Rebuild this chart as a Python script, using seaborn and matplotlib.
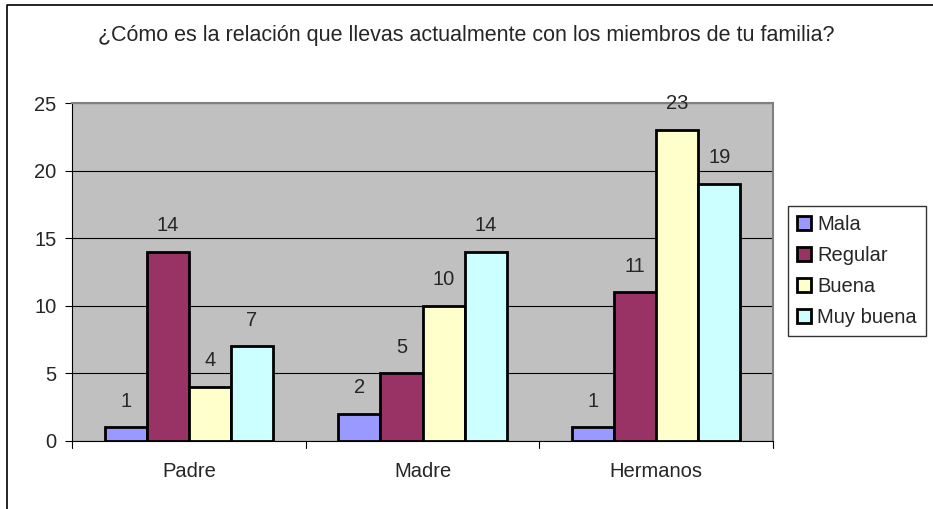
import pandas as pd
import seaborn as sns
import matplotlib.pyplot as plt
from matplotlib.lines import Line2D

# Data
categories = ["Padre", "Madre", "Hermanos"]
levels = ["Mala", "Regular", "Buena", "Muy buena"]
mala = [1, 2, 1]
regular = [14, 5, 11]
buena = [4, 10, 23]
muy_buena = [7, 14, 19]
colors = ["#9999FF", "#993366", "#FFFFCC", "#CCFFFF"]

df = pd.DataFrame({
    "Familiar": categories * 4,
    "Relacion": [lv for lv in levels for _ in categories],
    "Valor": mala + regular + buena + muy_buena,
})

sns.set_style("white")
plt.rcParams["font.family"] = ["Liberation Sans", "DejaVu Sans"]
FS = 14.5

fig = plt.figure(figsize=(9.33, 5.09), dpi=100)
ax = fig.add_axes([0.0772, 0.1336, 0.7513, 0.664])
ax.set_facecolor("#C0C0C0")

sns.barplot(data=df, x="Familiar", y="Valor", hue="Relacion", hue_order=levels,
            palette=colors, edgecolor="black", linewidth=2, width=0.72,
            saturation=1, ax=ax, zorder=3)

for cont in ax.containers:
    ax.bar_label(cont, padding=12, fontsize=FS)

ax.set_ylim(0, 25)
ax.set_xlim(-0.5, 2.5)
ax.set_yticks(range(0, 26, 5))
ax.yaxis.grid(True, color="black", linewidth=0.8, zorder=0)
ax.set_axisbelow(True)
ax.set_xlabel("")
ax.set_ylabel("")
ax.tick_params(axis="both", labelsize=FS)
ax.tick_params(axis="y", length=5, width=0.8, direction="out", left=True,
               color="black", pad=6)
ax.tick_params(axis="x", length=0, pad=15)
# category boundary ticks
for xb in [-0.5, 0.5, 1.5, 2.5]:
    ax.plot([xb, xb], [0, -0.022], transform=ax.get_xaxis_transform(),
            color="black", linewidth=0.8, clip_on=False)
for side in ["top", "right"]:
    ax.spines[side].set_color("#808080")
    ax.spines[side].set_linewidth(1.5)
for side in ["left", "bottom"]:
    ax.spines[side].set_color("black")
    ax.spines[side].set_linewidth(0.8)

leg = ax.legend(loc="upper left", bbox_to_anchor=(1.022, 0.695), fontsize=FS,
                frameon=True, fancybox=False, edgecolor="black",
                handlelength=0.68, handleheight=0.68, handletextpad=0.3,
                labelspacing=0.6, borderpad=0.45, borderaxespad=0)
leg.get_frame().set_linewidth(1)
for h in leg.legend_handles:
    h.set_edgecolor("black")
    h.set_linewidth(2)

fig.text(0.5, 0.93, "¿Cómo es la relación que llevas actualmente con los miembros de tu familia?",
         ha="center", va="center", fontsize=15.5)

# outer chart border
fig.add_artist(Line2D([7 / 933, 7 / 933, 1.0], [0.0, 1 - 5 / 509, 1 - 5 / 509],
                      transform=fig.transFigure, color="black", linewidth=1.2))

fig.savefig("out.png", dpi=100)
